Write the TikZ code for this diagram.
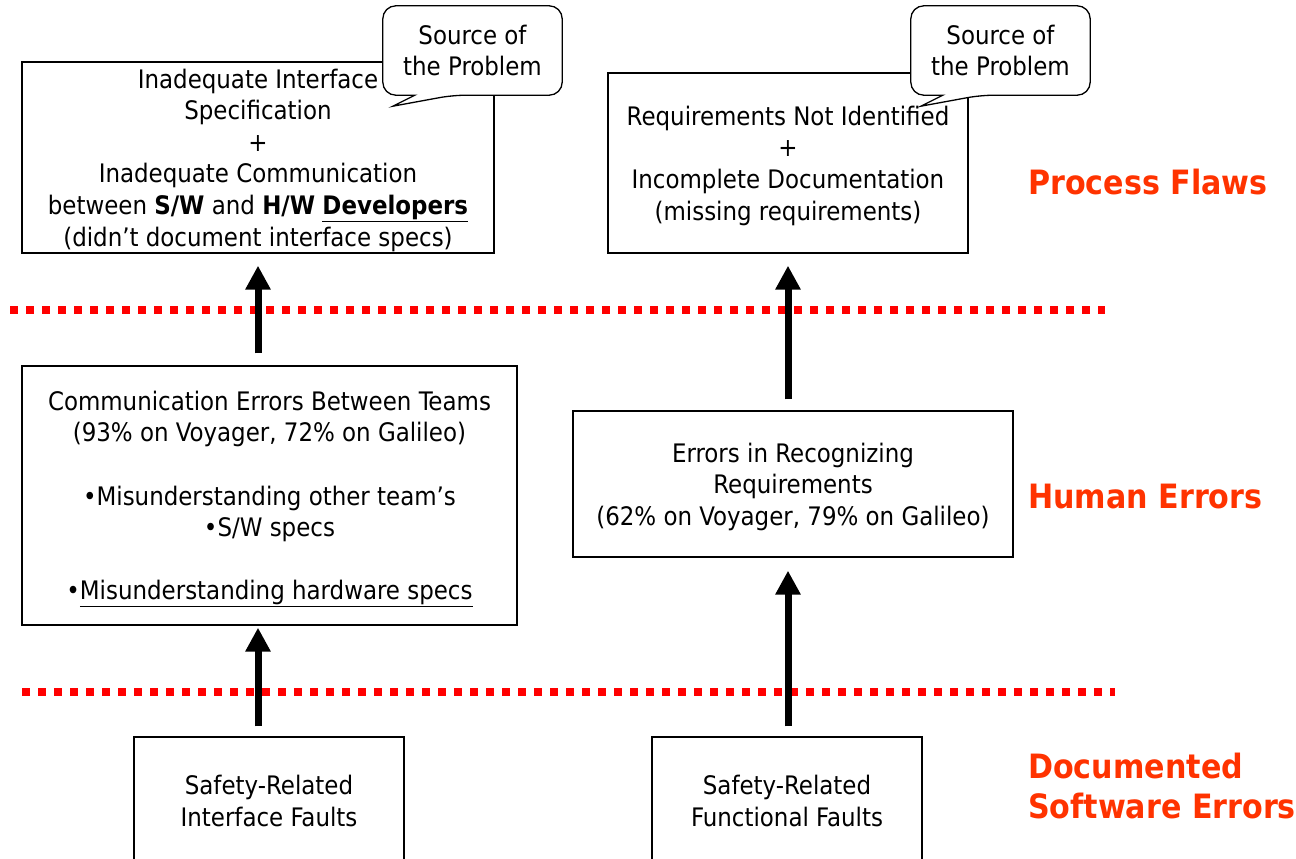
\documentclass[tikz,border=0pt]{standalone}
\usepackage{fontspec}
\setmainfont{DejaVu Sans Condensed}
\usetikzlibrary{arrows.meta}
\definecolor{flawred}{RGB}{255,51,0}
\definecolor{dotred}{RGB}{255,0,0}
\pgfdeclarelayer{front}
\pgfsetlayers{main,front}
\tikzset{
  box/.style={draw, line width=1.3pt, fill=white, align=center, inner sep=0pt,
    font=\fontsize{25.5}{31.6}\selectfont, text depth=-1pt},
  calltext/.style={align=center, inner sep=0pt, minimum width=179pt, minimum height=89pt,
    font=\fontsize{25.5}{31.6}\selectfont},
  callout/.style={draw, fill=white, line width=1.3pt},
  layer/.style={text=flawred, anchor=west, align=left, inner sep=0pt,
    font=\fontsize{33.5}{40}\selectfont\bfseries},
  divider/.style={dotred, line width=8pt, dash pattern=on 8pt off 8pt},
  uparrow/.style={line width=7pt, -{Triangle[width=24pt,length=24pt]}}
}
\begin{document}
\begin{tikzpicture}[x=1pt,y=-1pt]
  \clip (0,0) rectangle (1296,859);

  % process flaws
  \node[box, minimum width=472pt, minimum height=191pt] (spec) at (258,157.5)
    {Inadequate Interface\\Specification\\+\\Inadequate Communication\\
     between \textbf{S/W} and \textbf{H/W} \textbf{\underline{Developers}}\\
     (didn’t document interface specs)};
  \node[box, minimum width=360pt, minimum height=180pt] (reqs) at (788,163)
    {Requirements Not Identified\\+\\Incomplete Documentation\\(missing requirements)};

  % callouts
  \begin{pgfonlayer}{front}
    \node[calltext] (src1) at (472.5,50.5) {Source of\\the Problem};
    \node[calltext] (src2) at (1000.5,50.5) {Source of\\the Problem};
  \end{pgfonlayer}
  \foreach \c in {src1,src2}
    \draw[callout] (\c.north) [rounded corners=13pt] -- (\c.north east) -- (\c.south east)
      -- ([xshift=70pt]\c.south west) [sharp corners]
      -- ([xshift=10pt,yshift=-11pt]\c.south west)
      -- ([xshift=32pt]\c.south west) [rounded corners=13pt]
      -- (\c.south west) -- (\c.north west) -- cycle;

  % human errors
  \node[box, minimum width=495pt, minimum height=259pt] (comm) at (269.5,495.5)
    {Communication Errors Between Teams\\(93\% on Voyager, 72\% on Galileo)\\[31.6pt]
     •Misunderstanding other team’s\\•S/W specs\\[31.6pt]
     •\underline{Misunderstanding hardware specs}};
  \node[box, minimum width=440pt, minimum height=146pt] (recog) at (793,484)
    {Errors in Recognizing\\Requirements\\(62\% on Voyager, 79\% on Galileo)};

  % documented software errors
  \node[box, minimum width=270pt, minimum height=128pt] (intf) at (269,801)
    {Safety-Related\\Interface Faults};
  \node[box, minimum width=270pt, minimum height=128pt] (func) at (787,801)
    {Safety-Related\\Functional Faults};

  \draw[divider] (10,310) -- (1105,310);
  \draw[divider] (22,692) -- (1115,692);

  \draw[uparrow] (comm.north -| spec.south) ++(0,-12) -- ([yshift=-12pt]spec.south);
  \draw[uparrow] (recog.north -| reqs.south) ++(0,-11) -- ([yshift=-12pt]reqs.south);
  \draw[uparrow] (intf.north -| spec.south) ++(0,-10) -- ([yshift=-2pt]comm.south -| spec.south);
  \draw[uparrow] (func.north -| reqs.south) ++(0,-10) -- ([yshift=-13pt]recog.south -| reqs.south);

  \node[layer] (flaws) at (1028,182) {Process Flaws};
  \node[layer] (human) at (1028,497) {Human Errors};
  \node[layer] (docs) at (1028,786) {Documented\\Software Errors};
\end{tikzpicture}
\end{document}
